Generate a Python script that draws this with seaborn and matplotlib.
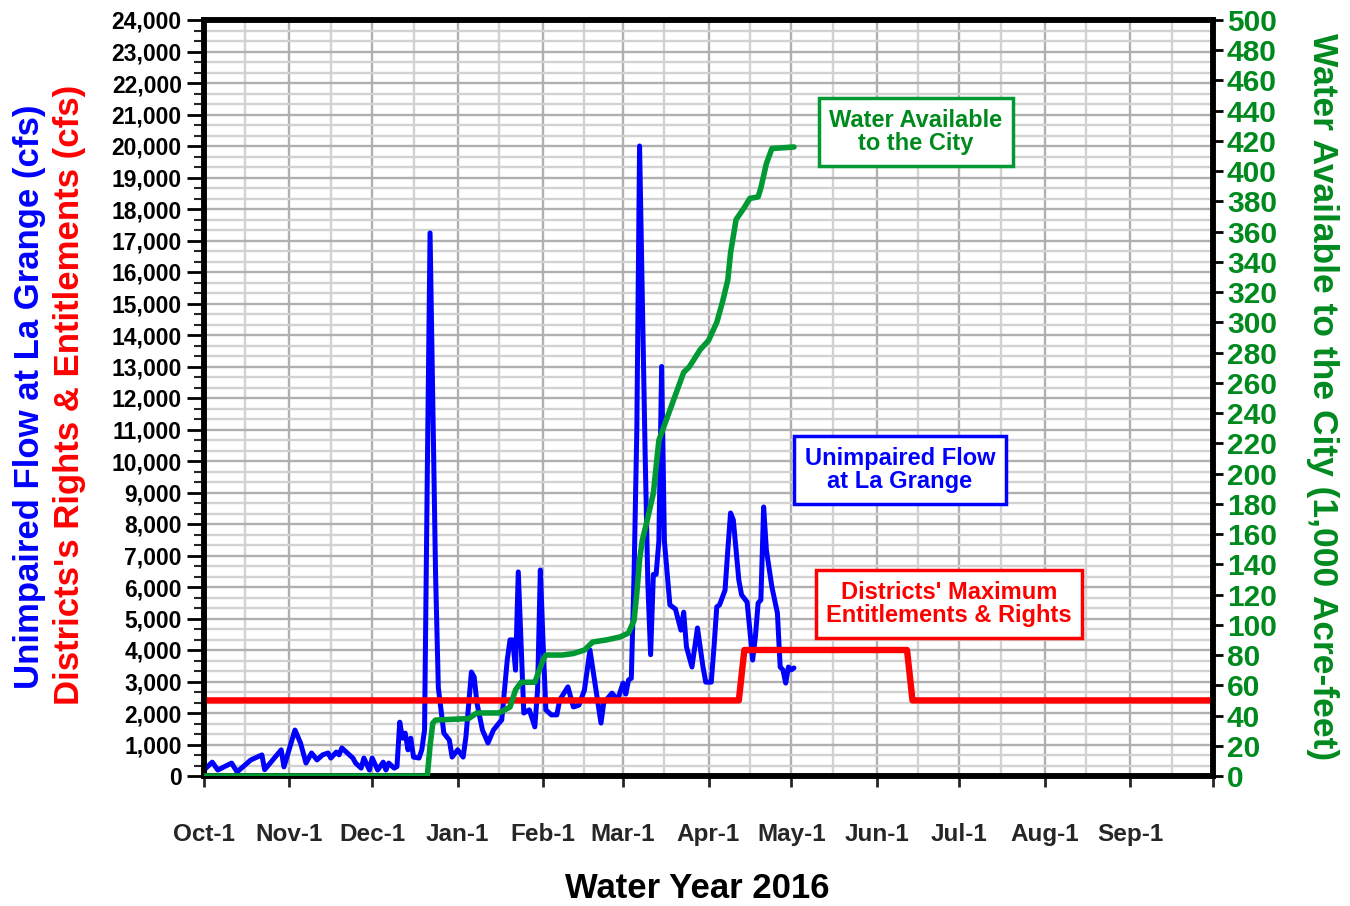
import pandas as pd
import seaborn as sns
import matplotlib.pyplot as plt
import matplotlib.dates as mdates
from matplotlib.ticker import MultipleLocator, StrMethodFormatter
import numpy as np

# Days counted from Oct-1 2015 (start of water year 2016)
flow_days = [0, 3, 5, 10, 12, 17, 21, 22, 28, 29, 33, 35, 37, 39, 41, 43, 45, 46, 48, 49,
             50, 52, 54, 55, 57, 58, 60, 61, 63, 65, 66, 67, 69, 70, 71, 72, 73, 74, 75, 76,
             78, 79, 80, 81, 82, 83, 84, 85, 87, 89, 90, 92, 94, 95, 97, 98, 99, 101, 103, 105,
             107, 108, 110, 111, 112, 113, 114, 115, 116, 118, 120, 121, 122, 123, 124, 126, 128, 129, 132, 134,
             136, 138, 140, 142, 144, 145, 148, 150, 152, 153, 154, 155, 156, 157, 158, 159, 160, 161, 162, 163,
             164, 165, 166, 167, 169, 171, 173, 174, 175, 177, 179, 181, 182, 184, 185, 186, 187, 189, 190, 191,
             192, 193, 194, 195, 197, 198, 199, 200, 201, 202, 203, 204, 206, 208, 209, 210, 211, 212, 213, 214]
flow_cfs = [190, 440, 190, 410, 130, 510, 670, 200, 830, 290, 1460, 1050, 410, 730, 510, 670, 730, 570, 760, 670,
            890, 730, 570, 410, 250, 570, 190, 570, 190, 440, 190, 410, 250, 300, 1710, 1200, 1360, 830, 1200, 600,
            570, 830, 1460, 9600, 17240, 11800, 6400, 2800, 1360, 1140, 600, 830, 600, 1240, 3300, 3140, 2320, 1460, 1050, 1460,
            1680, 1780, 3680, 4320, 4320, 3360, 6480, 4220, 2000, 2100, 1560, 2730, 6540, 4220, 2100, 1940, 1940, 2410, 2830, 2190,
            2250, 2730, 4000, 2830, 1680, 2320, 2630, 2410, 2950, 2600, 3050, 3100, 6400, 11000, 20000, 15200, 10300, 6100, 3850, 6400,
            6400, 7460, 13000, 7460, 5430, 5300, 4630, 5200, 4100, 3460, 4700, 3460, 2980, 2980, 4100, 5370, 5430, 5900, 7170, 8350,
            8130, 7170, 6220, 5750, 5520, 4630, 3680, 4410, 5490, 5590, 8540, 7170, 6000, 5170, 3460, 3370, 2950, 3460, 3370, 3430]

rights_days = [0, 194, 196, 255, 257, 366]
rights_cfs = [2400, 2400, 4000, 4000, 2400, 2400]

city_days = [0, 81, 82, 83, 84, 96, 99, 107, 111, 113, 115, 120, 123, 124, 130, 134, 138, 141, 146, 151,
             154, 156, 157, 158, 159, 161, 163, 165, 170, 174, 176, 180, 183, 186, 188, 190, 191, 193, 196, 198,
             201, 202, 204, 206, 214]
city_kaf = [0, 0, 20, 35, 37, 38, 41.7, 41.7, 45.6, 56.9, 62, 62, 76.7, 80, 80, 81, 83.3, 88.6, 90, 92,
            94.6, 103, 121, 143, 156, 171, 187, 222, 247, 267, 270.5, 282, 288, 300, 313, 328, 346, 368, 376, 382,
            383, 389, 405, 415, 416]

month_labels = ['Oct-1', 'Nov-1', 'Dec-1', 'Jan-1', 'Feb-1', 'Mar-1',
                'Apr-1', 'May-1', 'Jun-1', 'Jul-1', 'Aug-1', 'Sep-1']

start = pd.Timestamp('2015-10-01')
flow = pd.DataFrame({'date': start + pd.to_timedelta(flow_days, unit='D'), 'cfs': flow_cfs})
rights = pd.DataFrame({'date': start + pd.to_timedelta(rights_days, unit='D'), 'cfs': rights_cfs})
city = pd.DataFrame({'date': start + pd.to_timedelta(city_days, unit='D'), 'kaf': city_kaf})

sns.set_style('white')
plt.rcParams['font.family'] = ['Liberation Sans', 'DejaVu Sans']
plt.rcParams['font.weight'] = 'bold'

BLUE = '#0000ff'
RED = '#ff0000'
GREEN = '#009933'
GREEN_TXT = '#008a1e'

fig = plt.figure(figsize=(13.5, 9.06), dpi=100)
ax = fig.add_axes([204 / 1350, 1 - 776 / 906, (1213 - 204) / 1350, (776 - 20) / 906])

sns.lineplot(data=flow, x='date', y='cfs', ax=ax, color=BLUE, lw=3.6, zorder=3)
sns.lineplot(data=rights, x='date', y='cfs', ax=ax, color=RED, lw=4.6, zorder=4)

ax.set_xlim(start, pd.Timestamp('2016-10-01'))
ax.set_ylim(0, 24000)
ax.yaxis.set_major_locator(MultipleLocator(1000))
ax.yaxis.set_minor_locator(MultipleLocator(1000 / 3))
ax.yaxis.set_major_formatter(StrMethodFormatter('{x:,.0f}'))

ax.xaxis.set_minor_locator(mdates.MonthLocator(bymonthday=16))
month_ticks = pd.date_range(start, periods=13, freq='MS')
ax.set_xticks(month_ticks)
ax.set_xticklabels(month_labels + [''])

ax.grid(which='major', axis='both', color='#b0b0b0', lw=1.7, zorder=0)
ax.grid(which='minor', axis='both', color='#d2d2d2', lw=1.7, zorder=0)
ax.set_axisbelow(True)

ax.tick_params(axis='y', which='major', direction='out', length=12, width=2, labelsize=16.5, pad=4,
               left=True, colors='black')
ax.tick_params(axis='y', which='minor', direction='out', length=7, width=1.5, left=True)
ax.tick_params(axis='x', which='major', direction='out', length=8, width=2, labelsize=17.5, pad=26,
               bottom=True)
ax.tick_params(axis='x', which='minor', length=0)
for lab in ax.get_xticklabels() + ax.get_yticklabels():
    lab.set_fontweight('bold')

for s in ax.spines.values():
    s.set_color('black')
    s.set_linewidth(4)

ax.set_xlabel('')
ax.set_ylabel('')

ax2 = ax.twinx()
sns.lineplot(data=city, x='date', y='kaf', ax=ax2, color=GREEN, lw=4, zorder=5)
ax2.set_ylim(0, 500)
ax2.yaxis.set_major_locator(MultipleLocator(20))
ax2.tick_params(axis='y', direction='out', length=7, width=2, labelsize=21.5, pad=3,
                labelcolor=GREEN_TXT, color='black')
for lab in ax2.get_yticklabels():
    lab.set_fontweight('bold')
ax2.set_ylabel('')
ax2.grid(False)
for s in ax2.spines.values():
    s.set_color('black')
    s.set_linewidth(4)
ax2.set_xlim(start, pd.Timestamp('2016-10-01'))

# axis titles
fig.text(30 / 1350, 1 - 397 / 906, 'Unimpaired Flow at La Grange (cfs)', rotation=90,
         ha='center', va='center', color=BLUE, fontsize=25, fontweight='bold')
fig.text(70 / 1350, 1 - 395 / 906, "Districts's Rights & Entitlements (cfs)", rotation=90,
         ha='center', va='center', color=RED, fontsize=25, fontweight='bold')
fig.text(1322 / 1350, 1 - 397 / 906, 'Water Available to the City (1,000 Acre-feet)', rotation=-90,
         ha='center', va='center', color=GREEN_TXT, fontsize=25.5, fontweight='bold')
fig.text(697 / 1350, 1 - 888 / 906, 'Water Year 2016', ha='center', va='center',
         color='black', fontsize=25, fontweight='bold')

# annotation boxes
def label_box(x, y, text, color, edge):
    fig.text(x / 1350, 1 - y / 906, text, ha='center', va='center', color=color,
             fontsize=17, fontweight='bold', linespacing=1.05, zorder=10,
             bbox=dict(boxstyle='square,pad=0.45', fc='white', ec=edge, lw=2.5))

label_box(916, 132, 'Water Available\nto the City', GREEN_TXT, GREEN)
label_box(900, 470, 'Unimpaired Flow\nat La Grange', BLUE, BLUE)
label_box(949, 604, "Districts' Maximum\nEntitlements & Rights", RED, RED)

fig.savefig('out.png', dpi=100)
